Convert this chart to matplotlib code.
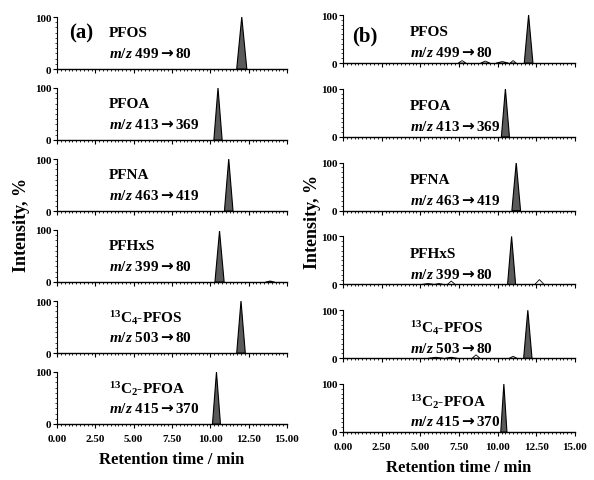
import numpy as np
import matplotlib
matplotlib.use('Agg')
import matplotlib.pyplot as plt
from matplotlib.ticker import MultipleLocator

# %% data
names = ['PFOS', 'PFOA', 'PFNA', 'PFHxS', r'$^{13}$C$_4$-PFOS', r'$^{13}$C$_2$-PFOA']
transitions = [('499', '80'), ('413', '369'), ('463', '419'),
               ('399', '80'), ('503', '80'), ('415', '370')]

# peak apex retention time (min), height (%), half base width (min)
peak_time_a = [12.05, 10.5, 11.2, 10.6, 12.0, 10.4]
peak_height_a = [100, 100, 100, 98, 100, 100]
peak_half_a = [0.33, 0.27, 0.28, 0.30, 0.28, 0.26]

peak_time_b = [12.0, 10.5, 11.2, 10.9, 11.95, 10.4]
peak_height_b = [100, 100, 100, 100, 100, 100]
peak_half_b = [0.28, 0.26, 0.28, 0.26, 0.27, 0.2]

# small baseline bumps in (b): (time, height, half width)
bumps_b = [
    [(7.7, 5, 0.25), (9.2, 4, 0.3), (10.3, 3, 0.4), (11.0, 5, 0.2)],
    [],
    [],
    [(5.5, 2, 0.4), (6.2, 2, 0.3), (7.0, 7, 0.25), (12.7, 10, 0.3)],
    [(6.0, 2, 0.5), (7.0, 2, 0.4), (8.6, 7, 0.25), (11.0, 4, 0.25)],
    [],
]
bumps_a = [[], [], [], [(13.9, 2, 0.3)], [], []]

x_ticks = [0, 2.5, 5, 7.5, 10, 12.5, 15]
x_tick_labels = ['0.00', '2.50', '5.00', '7.50', '10.00', '12.50', '15.00']

# %% style
plt.rcParams['font.family'] = ['Liberation Serif', 'DejaVu Serif']
plt.rcParams['font.weight'] = 'bold'
plt.rcParams['mathtext.fontset'] = 'custom'
plt.rcParams['mathtext.rm'] = 'Liberation Serif:bold'
plt.rcParams['mathtext.bf'] = 'Liberation Serif:bold'
plt.rcParams['mathtext.it'] = 'Liberation Serif:italic'
plt.rcParams['mathtext.sf'] = 'DejaVu Sans:bold'

W, H = 594, 481
fig = plt.figure(figsize=(W / 100, H / 100), dpi=100)


def add_panel(x0, x1, y_zero, y_top):
    # pixel coordinates -> figure fraction
    return fig.add_axes([x0 / W, 1 - y_zero / H, (x1 - x0) / W, (y_zero - y_top) / H])


def draw_panel(ax, t, h, hw, bumps, name, trans, text_x, name_y, mz_y, last):
    ax.fill([t - hw, t, t + hw], [0, h, 0], facecolor='#5a5a5a',
            edgecolor='black', lw=0.8, zorder=3)
    for bt, bh, bw in bumps:
        ax.fill([bt - bw, bt, bt + bw], [0, bh, 0], facecolor='white',
                edgecolor='black', lw=0.6, zorder=2)
    ax.set_xlim(0, 15)
    ax.set_ylim(0, 100)
    for s in ['top', 'right']:
        ax.spines[s].set_visible(False)
    ax.spines['left'].set_linewidth(0.8)
    ax.spines['bottom'].set_linewidth(1.0)
    ax.xaxis.set_major_locator(MultipleLocator(2.5))
    ax.xaxis.set_minor_locator(MultipleLocator(0.25))
    ax.set_yticks([0, 100])
    ax.yaxis.set_minor_locator(MultipleLocator(10))
    ax.tick_params(axis='x', which='major', length=3, width=0.8, direction='out')
    ax.tick_params(axis='x', which='minor', length=1.5, width=0.6, direction='out')
    ax.tick_params(axis='y', which='major', length=3, width=0.8, pad=1, labelsize=8)
    ax.tick_params(axis='y', which='minor', length=1.5, width=0.5)
    if last:
        ax.set_xticks(x_ticks)
        ax.set_xticklabels(x_tick_labels)
        ax.tick_params(axis='x', labelsize=8, pad=4)
        ax.set_xlabel('Retention time / min', fontsize=12, fontweight='bold', labelpad=6)
    else:
        ax.set_xticklabels([])
    ax.text(text_x, name_y, name, fontsize=11, fontweight='bold', va='center', ha='left')
    mz = r'$m/z$ ' + trans[0] + r'$\mathsf{\rightarrow}$' + trans[1]
    ax.text(text_x, mz_y, mz, fontsize=11, fontweight='bold', va='center', ha='left')


# left column (a)
axes_a = []
for k in range(6):
    yz = 70 + k * 71
    ax = add_panel(57, 287, yz, yz - 52)
    draw_panel(ax, peak_time_a[k], peak_height_a[k], peak_half_a[k], bumps_a[k],
               names[k], transitions[k], 3.4, 70, 30, k == 5)
    axes_a.append(ax)

# right column (b)
axes_b = []
for k in range(6):
    yz = 64 + k * 73.8
    ax = add_panel(343, 575, yz, yz - 48)
    draw_panel(ax, peak_time_b[k], peak_height_b[k], peak_half_b[k], bumps_b[k],
               names[k], transitions[k], 4.3, 65, 22, k == 5)
    axes_b.append(ax)

axes_a[0].text(0.8, 70, '(a)', fontsize=15, fontweight='bold', va='center', ha='left')
axes_b[0].text(0.6, 58, '(b)', fontsize=15, fontweight='bold', va='center', ha='left')

fig.text(22 / W, 1 - 225 / H, 'Intensity, %', rotation=90, fontsize=13,
         fontweight='bold', ha='center', va='center')
fig.text(312 / W, 1 - 222 / H, 'Intensity, %', rotation=90, fontsize=13,
         fontweight='bold', ha='center', va='center')

fig.savefig('out.png', dpi=100)
